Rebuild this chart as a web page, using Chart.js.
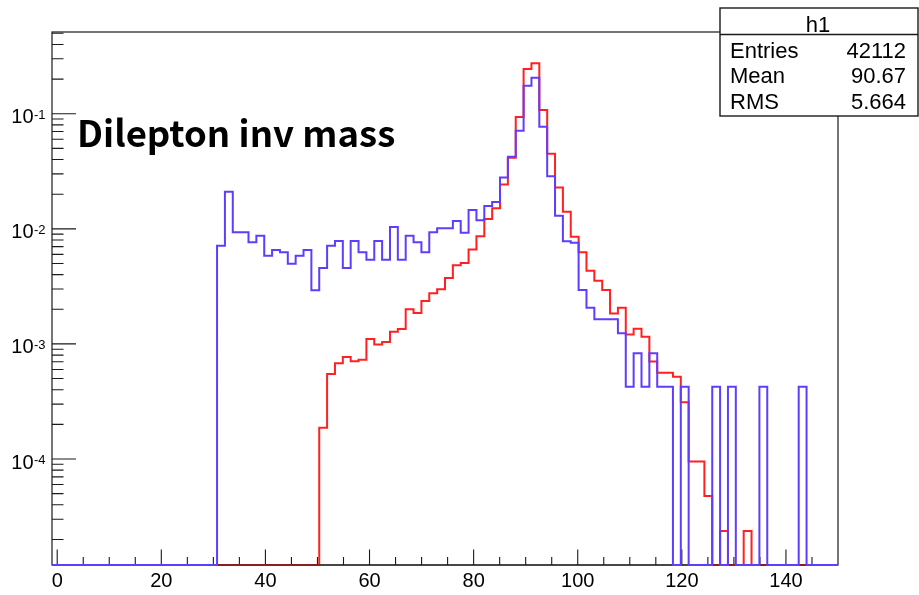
<!DOCTYPE html>
<html><head><meta charset="utf-8">
<script src="https://cdn.jsdelivr.net/npm/chart.js@4.4.1/dist/chart.umd.min.js"></script>
<style>html,body{margin:0;padding:0;background:#fff;overflow:hidden}canvas{display:block}</style>
</head><body>
<canvas id="c" width="919" height="595"></canvas>
<script>
// ---- histogram binning ----
const X_LO = -1, X_HI = 150, N_BINS = 100;
const Y_MIN = 1.2e-5, Y_MAX = 0.513;

// ---- series values (bin contents, 100 bins each) ----
const blueValues = [
  0,0,0,0,0,0,0,0,0,0,
  0,0,0,0,0,0,0,0,0,0,
  0,7.13e-3,0.0210,9.33e-3,9.33e-3,7.64e-3,8.71e-3,5.83e-3,6.55e-3,6.25e-3,
  4.98e-3,5.83e-3,6.55e-3,2.92e-3,4.56e-3,7.13e-3,7.84e-3,4.56e-3,7.84e-3,6.25e-3,
  5.40e-3,7.84e-3,5.40e-3,0.01038,5.40e-3,8.71e-3,7.64e-3,6.25e-3,9.33e-3,0.0101,
  0.0101,0.0117,9.25e-3,0.01455,0.0119,0.0158,0.0171,0.0279,0.0423,0.0711,
  0.175,0.2055,0.0770,0.0287,0.0130,7.8e-3,7.57e-3,2.94e-3,2.06e-3,1.64e-3,
  1.64e-3,1.64e-3,1.236e-3,4.25e-4,8.28e-4,4.25e-4,8.28e-4,4.25e-4,4.25e-4,0,
  4.25e-4,0,0,0,4.25e-4,0,4.25e-4,0,0,0,
  4.25e-4,0,0,0,0,4.25e-4,0,0,0,0
];
const redValues = [
  0,0,0,0,0,0,0,0,0,0,
  0,0,0,0,0,0,0,0,0,0,
  0,0,0,0,0,0,0,0,0,0,
  0,0,0,0,1.87e-4,5.47e-4,6.8e-4,7.69e-4,7.08e-4,7.28e-4,
  1.105e-3,9.9e-4,1.04e-3,1.275e-3,1.35e-3,2.0e-3,1.86e-3,2.36e-3,2.75e-3,2.99e-3,
  3.74e-3,4.82e-3,5.05e-3,6.6e-3,8.6e-3,0.0122,0.0151,0.0243,0.0415,0.0936,
  0.2443,0.274,0.1077,0.0448,0.0229,0.0141,8.53e-3,6.25e-3,4.33e-3,3.54e-3,
  2.94e-3,1.84e-3,2.06e-3,1.21e-3,1.355e-3,1.156e-3,7.03e-4,5.62e-4,5.62e-4,5.19e-4,
  3.11e-4,9.5e-5,9.5e-5,4.76e-5,0,2.37e-5,0,0,2.37e-5,0,
  0,0,0,0,0,0,0,0,0,0
];

// ---- tick labels ----
const xMajorTicks = [0,20,40,60,80,100,120,140];
const xMinorStep = 5;
const yMajorTicks = [1e-1,1e-2,1e-3,1e-4];
const yTickExponents = ['-1','-2','-3','-4'];

// ---- texts ----
const titleText = 'Dilepton inv mass';
const statsName = 'h1';
const statsLabels = ['Entries','Mean','RMS'];
const statsValues = ['42112','90.67','5.664'];

const BLUE = '#5f3dff', RED = '#ff2020', AXIS = '#1a1a1a';

function toStepPoints(vals){
  const w = (X_HI - X_LO) / N_BINS;
  const pts = vals.map((v,i)=>({x: X_LO + i*w, y: v > 0 ? v : Y_MIN}));
  pts.push({x: X_HI, y: pts[pts.length-1].y});
  return pts;
}

const rootPlugin = {
  id: 'rootStyle',
  beforeDatasetsDraw(chart){
    const {ctx, chartArea:a, scales:{x, y}} = chart;
    ctx.save();
    ctx.strokeStyle = AXIS; ctx.lineWidth = 1.2;
    ctx.strokeRect(a.left, a.top, a.right - a.left, a.bottom - a.top);
    ctx.lineWidth = 1.1;
    ctx.beginPath();
    for (let v = 0; v < X_HI; v += xMinorStep){
      const px = x.getPixelForValue(v);
      const len = xMajorTicks.includes(v) ? 15.5 : 8;
      ctx.moveTo(px, a.bottom); ctx.lineTo(px, a.bottom - len);
    }
    for (let e = -5; e <= 0; e++){
      for (let m = 1; m <= 9; m++){
        const v = m * Math.pow(10, e);
        if (v < Y_MIN || v > Y_MAX) continue;
        const py = y.getPixelForValue(v);
        const len = m === 1 ? 24 : 11.5;
        ctx.moveTo(a.left, py); ctx.lineTo(a.left + len, py);
      }
    }
    ctx.stroke();
    ctx.fillStyle = '#000';
    ctx.font = '20px "Liberation Sans", Arial, sans-serif';
    ctx.textAlign = 'center'; ctx.textBaseline = 'alphabetic';
    xMajorTicks.forEach(v => ctx.fillText(String(v), x.getPixelForValue(v), a.bottom + 22));
    yMajorTicks.forEach((v,i) => {
      const py = y.getPixelForValue(v);
      ctx.font = '20px "Liberation Sans", Arial, sans-serif';
      ctx.textAlign = 'right';
      ctx.fillText('10', 33.5, py + 9.5);
      ctx.font = '13px "Liberation Sans", Arial, sans-serif';
      ctx.textAlign = 'left';
      ctx.fillText(yTickExponents[i], 34, py + 5);
    });
    ctx.restore();
  },
  afterDatasetDraw(chart, args){
    if (args.index !== 1) return;
    const {ctx, chartArea:a} = chart;
    ctx.save();
    ctx.strokeStyle = AXIS; ctx.lineWidth = 1.2;
    ctx.beginPath(); ctx.moveTo(a.left, a.bottom); ctx.lineTo(a.right, a.bottom); ctx.stroke();
    ctx.restore();
  },
  afterDraw(chart){
    const {ctx} = chart;
    ctx.save();
    ctx.fillStyle = '#000';
    ctx.font = 'bold 36.5px "Noto Sans CJK JP", "Liberation Sans", sans-serif';
    ctx.textAlign = 'left'; ctx.textBaseline = 'alphabetic';
    ctx.fillText(titleText, 77, 146.5);
    const bx = 720, by = 8, bw = 198, bh = 108;
    ctx.fillStyle = '#fff';
    ctx.fillRect(bx, by, bw, bh);
    ctx.strokeStyle = AXIS; ctx.lineWidth = 1.4;
    ctx.strokeRect(bx, by, bw, bh);
    ctx.beginPath(); ctx.moveTo(bx, 34.5); ctx.lineTo(bx + bw, 34.5); ctx.stroke();
    ctx.fillStyle = '#000';
    ctx.font = '22px "Liberation Sans", Arial, sans-serif';
    ctx.textAlign = 'center';
    ctx.fillText(statsName, 818, 31.5);
    statsLabels.forEach((lab,i) => {
      const base = 57.5 + i * 25.8;
      ctx.textAlign = 'left'; ctx.fillText(lab, 730, base);
      ctx.textAlign = 'right'; ctx.fillText(statsValues[i], 906, base);
    });
    ctx.restore();
  }
};

new Chart(document.getElementById('c'), {
  type: 'line',
  data: {
    datasets: [
      {label: 'blue', data: toStepPoints(blueValues), borderColor: BLUE, borderWidth: 2,
       pointRadius: 0, stepped: true, fill: false, tension: 0, clip: 4},
      {label: 'h1', data: toStepPoints(redValues), borderColor: RED, borderWidth: 2,
       pointRadius: 0, stepped: true, fill: false, tension: 0, clip: 4}
    ]
  },
  options: {
    responsive: false, animation: false, devicePixelRatio: 1,
    layout: {padding: {left: 52, top: 32, right: 81, bottom: 30}},
    plugins: {legend: {display: false}, tooltip: {enabled: false}, title: {display: false}},
    scales: {
      x: {type: 'linear', min: X_LO, max: X_HI, display: false},
      y: {type: 'logarithmic', min: Y_MIN, max: Y_MAX, display: false}
    }
  },
  plugins: [rootPlugin]
});
</script>
</body></html>
